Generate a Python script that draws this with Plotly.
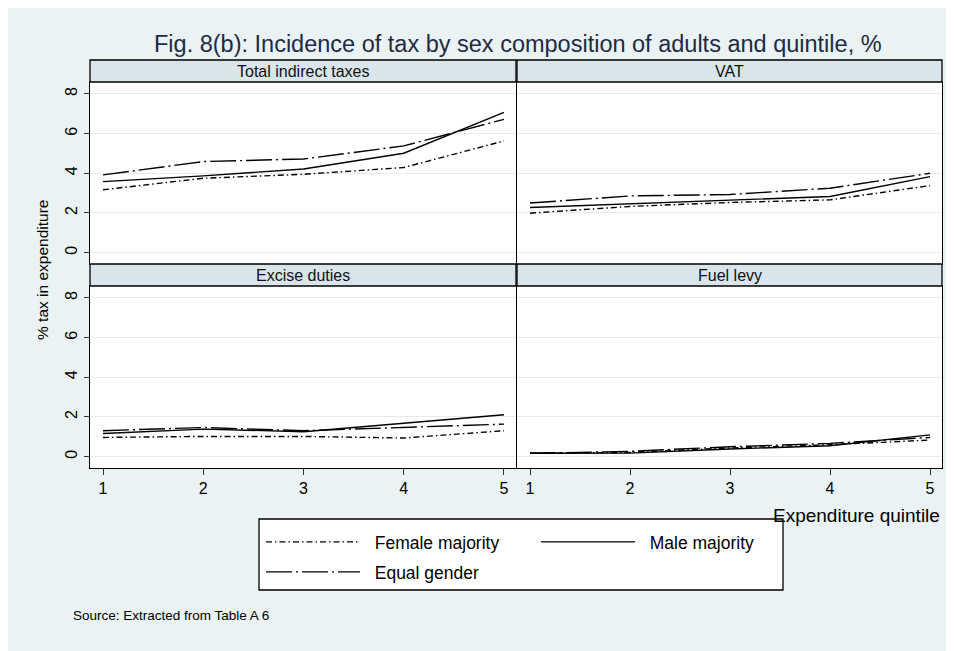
import plotly.graph_objects as go

# ---------------- data ----------------
quintiles = [1, 2, 3, 4, 5]
panel_titles = ["Total indirect taxes", "VAT", "Excise duties", "Fuel levy"]
series_names = ["Female majority", "Male majority", "Equal gender"]
y_ticks = [0, 2, 4, 6, 8]

total_female = [3.17, 3.75, 3.95, 4.29, 5.63]
total_male = [3.58, 3.87, 4.22, 5.01, 7.07]
total_equal = [3.92, 4.59, 4.72, 5.38, 6.72]

vat_female = [1.99, 2.33, 2.53, 2.66, 3.38]
vat_male = [2.28, 2.46, 2.66, 2.83, 3.83]
vat_equal = [2.50, 2.86, 2.93, 3.25, 4.00]

excise_female = [0.97, 1.02, 1.02, 0.94, 1.31]
excise_male = [1.17, 1.39, 1.26, 1.69, 2.11]
excise_equal = [1.31, 1.47, 1.31, 1.47, 1.64]

fuel_female = [0.17, 0.22, 0.44, 0.60, 0.84]
fuel_male = [0.17, 0.18, 0.39, 0.55, 1.10]
fuel_equal = [0.17, 0.27, 0.50, 0.67, 0.97]

panels = [
    (total_female, total_male, total_equal),
    (vat_female, vat_male, vat_equal),
    (excise_female, excise_male, excise_equal),
    (fuel_female, fuel_male, fuel_equal),
]

# ---------------- styling ----------------
W, H = 954, 651
OFF = 8  # page body margin offset
BG = "#EAF2F3"
STRIP = "#D9E5EB"
GRID = "#E3ECEF"
FONT = "Liberation Sans, Arial, sans-serif"

def fx(p):
    return (p - OFF) / W

def fy(p):
    return 1 - (p - OFF) / H

x_dom = [(90, 516), (517, 942)]
y_dom = [(82, 264), (286, 468)]  # plot areas (top, bottom) in px
strip_h = 22

line_styles = [
    dict(color="black", width=1.4, dash="6px,3px,1.5px,3px"),
    dict(color="black", width=1.4, dash="solid"),
    dict(color="black", width=1.4, dash="26px,4px,2px,4px"),
]
legend_ids = ["legend", "legend", "legend2"]
PAD = "\u00a0\u00a0"

fig = go.Figure()

for pi, vals in enumerate(panels):
    ax = "" if pi == 0 else str(pi + 1)
    for si, yv in enumerate(vals):
        fig.add_trace(go.Scatter(
            x=quintiles, y=yv, mode="lines",
            name=PAD + series_names[si],
            line=line_styles[si],
            xaxis="x" + ax, yaxis="y" + ax,
            legendgroup=series_names[si],
            showlegend=(pi == 0),
            legend=legend_ids[si],
            hoverinfo="skip",
        ))

layout = dict(
    width=W, height=H,
    margin=dict(l=0, r=0, t=0, b=0),
    paper_bgcolor=BG, plot_bgcolor="white",
    font=dict(family=FONT, color="black"),
    showlegend=True,
)

shapes = []
annotations = []
for pi in range(4):
    col = pi % 2
    row = pi // 2
    ax = "" if pi == 0 else str(pi + 1)
    xd = [fx(x_dom[col][0]), fx(x_dom[col][1])]
    yd = [fy(y_dom[row][1]), fy(y_dom[row][0])]
    bottom = row == 1
    left = col == 0
    layout["xaxis" + ax] = dict(
        domain=xd, anchor="y" + ax, range=[0.87, 5.12],
        tickvals=quintiles, showgrid=False, zeroline=False,
        showline=True, mirror=True, linecolor="black", linewidth=1.3,
        ticks="outside" if bottom else "", ticklen=6, tickcolor="#333",
        showticklabels=bottom, tickfont=dict(size=16, family=FONT),
    )
    layout["yaxis" + ax] = dict(
        domain=yd, anchor="x" + ax, range=[-0.57, 8.6],
        tickvals=y_ticks, showgrid=True, gridcolor=GRID, gridwidth=1,
        zeroline=False, showline=True, mirror=True, linecolor="black",
        linewidth=1.3, ticks="outside" if left else "", ticklen=5,
        tickcolor="#333", showticklabels=left, tickangle=-90,
        tickfont=dict(size=16, family=FONT),
    )
    top_px = y_dom[row][0]
    shapes.append(dict(
        type="rect", xref="paper", yref="paper",
        x0=xd[0], x1=xd[1], y0=fy(top_px), y1=fy(top_px - strip_h),
        fillcolor=STRIP, line=dict(color="black", width=1.3), layer="above",
    ))
    annotations.append(dict(
        text=panel_titles[pi], xref="paper", yref="paper",
        x=(xd[0] + xd[1]) / 2, y=fy(top_px - strip_h / 2),
        xanchor="center", yanchor="middle", showarrow=False,
        font=dict(size=16, family=FONT, color="#111"),
    ))

# legend box
shapes.append(dict(type="rect", xref="paper", yref="paper",
                   x0=fx(259), x1=fx(783), y0=fy(590), y1=fy(519),
                   fillcolor="white", line=dict(color="black", width=1.3), layer="above"))

annotations += [
    dict(text="Fig. 8(b): Incidence of tax by sex composition of adults and quintile, %",
         xref="paper", yref="paper", x=fx(518), y=fy(44), xanchor="center",
         yanchor="middle", showarrow=False,
         font=dict(size=23.5, family=FONT, color="#1f2a44")),
    dict(text="% tax in expenditure", xref="paper", yref="paper",
         x=fx(42), y=fy(270), textangle=-90, xanchor="center", yanchor="middle",
         showarrow=False, font=dict(size=15.5, family=FONT)),
    dict(text="Expenditure quintile", xref="paper", yref="paper",
         x=fx(942), y=fy(515), xanchor="right", yanchor="middle",
         showarrow=False, font=dict(size=19, family=FONT)),
    dict(text="Source: Extracted from Table A 6", xref="paper", yref="paper",
         x=fx(71), y=fy(615), xanchor="left", yanchor="middle",
         showarrow=False, font=dict(size=13.5, family=FONT)),
]

layout["shapes"] = shapes
layout["annotations"] = annotations
layout["legend"] = dict(
    orientation="h", x=fx(261), y=fy(542), xanchor="left", yanchor="middle",
    bgcolor="rgba(0,0,0,0)", borderwidth=0, itemwidth=94,
    entrywidth=166, font=dict(size=17.5, family=FONT), traceorder="normal",
)
layout["legend2"] = dict(
    orientation="h", x=fx(261), y=fy(572), xanchor="left", yanchor="middle",
    bgcolor="rgba(0,0,0,0)", borderwidth=0, itemwidth=94,
    font=dict(size=17.5, family=FONT),
)

fig.update_layout(**layout)
fig.write_html("out.html")
